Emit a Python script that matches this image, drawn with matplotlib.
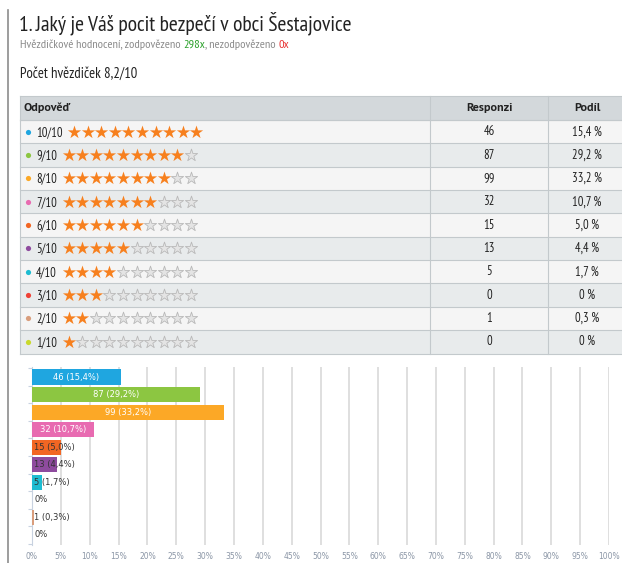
import matplotlib
matplotlib.use("Agg")
import matplotlib.pyplot as plt
from matplotlib.patches import Rectangle

# ---------------- data ----------------
title = "1. Jaký je Váš pocit bezpečí v obci Šestajovice"
sub_parts = [("Hvězdičkové hodnocení, zodpovězeno ", "#8a8a8a"),
             ("298x", "#2aa02a"),
             (", nezodpovězeno ", "#8a8a8a"),
             ("0x", "#e83030")]
avg_text = "Počet hvězdiček 8,2/10"
header = ["Odpověď", "Responzi", "Podíl"]
labels = ["10/10", "9/10", "8/10", "7/10", "6/10", "5/10", "4/10", "3/10", "2/10", "1/10"]
stars = [10, 9, 8, 7, 6, 5, 4, 3, 2, 1]
responses = [46, 87, 99, 32, 15, 13, 5, 0, 1, 0]
shares = [15.4, 29.2, 33.2, 10.7, 5.0, 4.4, 1.7, 0.0, 0.3, 0.0]
colors = ["#1fa6e0", "#8cc641", "#fca826", "#e86bb1", "#f26623",
          "#8e4b9e", "#1ebcd1", "#ef4136", "#d99d7c", "#c9d92c"]
xticks = list(range(0, 101, 5))

NARROW = ["PT Sans Narrow", "DejaVu Sans"]
HEAD = ["PT Sans", "DejaVu Sans"]
CHART = ["DejaVu Sans"]
plt.rcParams["font.family"] = NARROW

W, H = 622, 563
fig = plt.figure(figsize=(W / 100, H / 100), dpi=100)
bg = fig.add_axes([0, 0, 1, 1])
bg.set_xlim(0, W)
bg.set_ylim(H, 0)
bg.axis("off")

# page border line
bg.plot([8, 8], [10, H], color="#8c8c8c", lw=1.2)

# title
bg.text(19, 23, title, fontsize=15.5, color="#222222", va="center", ha="left")

# subtitle in pieces
fig.canvas.draw()
r = fig.canvas.get_renderer()
x = 20
inv = bg.transData.inverted()
for txt, col in sub_parts:
    t = bg.text(x, 44.5, txt, fontsize=8.8, style="italic", color=col, va="center", ha="left")
    bb = t.get_window_extent(renderer=r)
    x0 = inv.transform((bb.x0, 0))[0]
    x1 = inv.transform((bb.x1, 0))[0]
    x += (x1 - x0)

bg.text(20, 74, avg_text, fontsize=10.5, color="#222222", va="center", ha="left")

# table
tx0, tx1 = 20, 622
col1, col2 = 430, 548
hy0, hy1 = 96, 120
rh = 23.35
bg.add_patch(Rectangle((tx0, hy0), tx1 - tx0, hy1 - hy0, facecolor="#d3d8db", edgecolor="none"))
bg.text(23, (hy0 + hy1) / 2, header[0], fontsize=8.7, weight="bold", color="#222222",
        va="center", family=HEAD)
bg.text((col1 + col2) / 2, (hy0 + hy1) / 2, header[1], fontsize=8.7, weight="bold", color="#222222",
        va="center", ha="center", family=HEAD)
bg.text((col2 + tx1) / 2 + 2, (hy0 + hy1) / 2, header[2], fontsize=8.7, weight="bold", color="#222222",
        va="center", ha="center", family=HEAD)

for i, lab in enumerate(labels):
    y0 = hy1 + i * rh
    yc = y0 + rh / 2
    fc = "#f5f5f5" if i % 2 == 0 else "#e8ebec"
    bg.add_patch(Rectangle((tx0, y0), tx1 - tx0, rh, facecolor=fc, edgecolor="none"))
    bg.plot([tx0, tx1], [y0, y0], color="#c3c9cc", lw=0.8)
    bg.scatter([27.5], [yc], s=14, color=colors[i], zorder=3, linewidths=0)
    bg.text(36, yc + 0.5, lab, fontsize=9, color="#222222", va="center", ha="left")
    sx0 = 74 if lab == "10/10" else 68.5
    xs = [sx0 + k * 13.6 for k in range(10)]
    on = [xv for k, xv in enumerate(xs) if k < stars[i]]
    off = [xv for k, xv in enumerate(xs) if k >= stars[i]]
    bg.scatter(on, [yc] * len(on), s=100, marker="*", color="#f7801e", zorder=3, linewidths=0)
    if off:
        bg.scatter(off, [yc] * len(off), s=85, marker="*", facecolor="#e4e4e4",
                   edgecolor="#b9b9b9", linewidths=0.6, zorder=3)
    bg.text((col1 + col2) / 2, yc, str(responses[i]), fontsize=9, color="#222222", va="center", ha="center")
    st = ("%.1f" % shares[i]).replace(".", ",") + " %" if shares[i] > 0 else "0 %"
    bg.text((col2 + tx1) / 2 + 2, yc, st, fontsize=9, color="#222222", va="center", ha="center")

tb = hy1 + len(labels) * rh
bg.plot([tx0, tx1], [hy1, hy1], color="#c3c9cc", lw=0.8)
bg.plot([tx0, tx1], [hy0, hy0], color="#c3c9cc", lw=0.8)
bg.plot([tx0, tx1], [tb, tb], color="#c3c9cc", lw=0.8)
bg.plot([tx0, tx0], [hy0, tb], color="#c3c9cc", lw=0.8)
bg.plot([col1, col1], [hy0, tb], color="#c3c9cc", lw=0.8)
bg.plot([col2, col2], [hy0, tb], color="#c3c9cc", lw=0.8)

# bar chart
ax_l, ax_r, ax_t, ax_b = 32, 609, 367, 545
ax = fig.add_axes([ax_l / W, 1 - ax_b / H, (ax_r - ax_l) / W, (ax_b - ax_t) / H])
ax.set_facecolor("none")
n = len(labels)
ypos = list(range(n))
ax.barh(ypos, shares, height=0.86, color=colors, edgecolor="none", zorder=3)
ax.set_xlim(0, 100)
ax.set_ylim(n - 1 + 0.57, -0.57)
ax.set_xticks(xticks)
ax.set_xticklabels(["%d%%" % v for v in xticks], fontsize=5.5, color="#8b96a6", family=CHART)
ax.tick_params(axis="x", length=0, pad=5)
ax.set_yticks([])
ax.set_yticks([k + 0.5 for k in range(-1, n)], minor=True)
ax.tick_params(axis="y", which="minor", length=3, color="#c8d2e0", width=0.8)
for v in xticks[1:]:
    ax.axvline(v, color="#dcdcdc", lw=1.3, zorder=1)
for s in ["top", "right", "bottom"]:
    ax.spines[s].set_visible(False)
ax.spines["left"].set_color("#c8d2e0")
ax.spines["left"].set_linewidth(0.8)

for i in range(n):
    if responses[i] == 0:
        lab = "0%"
    else:
        lab = "%d (%s%%)" % (responses[i], ("%.1f" % shares[i]).replace(".", ","))
    if shares[i] >= 10:
        ax.text(shares[i] / 2, i, lab, fontsize=6, color="white", ha="center", va="center",
                zorder=4, family=CHART)
    else:
        ax.text(0.4, i, lab, fontsize=6, color="#333333", ha="left", va="center",
                zorder=4, family=CHART)

fig.savefig("out.png", dpi=100)
